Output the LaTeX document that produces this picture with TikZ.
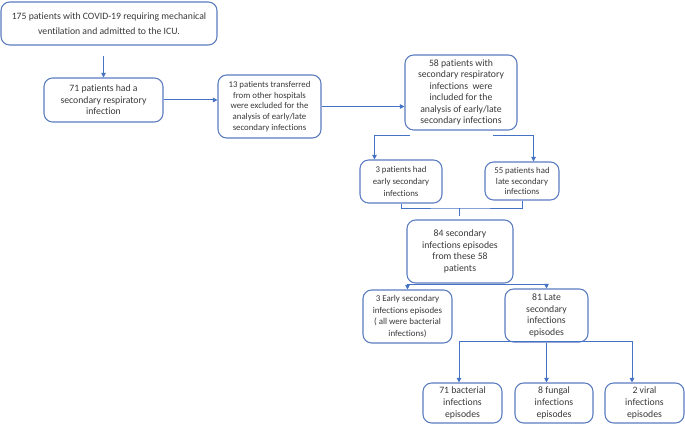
\documentclass[tikz,border=0pt]{standalone}
\usepackage{fontspec}
\setmainfont{Carlito}[Ligatures={NoCommon,NoRare}]
\usetikzlibrary{arrows.meta}
\definecolor{lb}{HTML}{4472C4}
\definecolor{bb}{HTML}{5B7BC0}
\definecolor{txt}{HTML}{383838}
\begin{document}
\begin{tikzpicture}[x=0.75pt,y=-0.75pt,
  box/.style={draw=bb, line width=0.8pt, rounded corners=6.5pt, align=center, text=txt, inner sep=0pt, font=\fontsize{7.3}{8.6}\selectfont},
  sbox/.style={box, font=\fontsize{6.6}{8.0}\selectfont},
  conn/.style={draw=lb, line width=0.75pt},
  arr/.style={conn, -{Triangle[length=3.5pt,width=3.5pt]}}]
\useasboundingbox (0,0) rectangle (685,424);

\node[box, minimum width=162pt, minimum height=32.25pt, font=\fontsize{7.3}{11.6}\selectfont] (b1) at (109,23.5)
  {175 patients with COVID-19 requiring mechanical\\ventilation and admitted to the ICU.};
\node[box, minimum width=89.25pt, minimum height=33pt] (b2) at (103.5,100)
  {71 patients had a\\secondary respiratory\\infection};
\node[sbox, minimum width=77.25pt, minimum height=47.25pt] (b3) at (269.5,106.5)
  {13 patients transferred\\from other hospitals\\were excluded for the\\analysis of early/late\\secondary infections};
\node[box, minimum width=84pt, minimum height=56.25pt] (b4) at (461,92.5)
  {58 patients with\\secondary respiratory\\infections\ \ were\\included for the\\analysis of early/late\\secondary infections};
\node[sbox, minimum width=61.5pt, minimum height=32.25pt, font=\fontsize{6.6}{9.2}\selectfont] (b5) at (401,181.5)
  {3 patients had\\early secondary\\infections};
\node[sbox, minimum width=55.5pt, minimum height=28.5pt] (b6) at (522,181)
  {55 patients had\\late secondary\\infections};
\node[box, minimum width=79.5pt, minimum height=47.25pt] (b7) at (460,251.5)
  {84 secondary\\infections episodes\\from these 58\\patients};
\node[sbox, minimum width=66.75pt, minimum height=39.75pt, font=\fontsize{6.7}{8.7}\selectfont] (b8) at (407.5,316.5)
  {3 Early secondary\\infections episodes\\( all were bacterial\\infections)};
\node[box, minimum width=62.25pt, minimum height=39.75pt] (b9) at (546.5,315.5)
  {81 Late\\secondary\\infections\\episodes};
\node[box, minimum width=59.25pt, minimum height=30pt, font=\fontsize{7.3}{9.3}\selectfont] (b10) at (462.5,403)
  {71 bacterial\\infections\\episodes};
\node[box, minimum width=58.5pt, minimum height=30pt, font=\fontsize{7.3}{9.3}\selectfont] (b11) at (554,403)
  {8 fungal\\infections\\episodes};
\node[box, minimum width=59.25pt, minimum height=30pt, font=\fontsize{7.3}{9.3}\selectfont] (b12) at (644.5,403)
  {2 viral\\infections\\episodes};

% connectors
\coordinate (c1) at (103.5,56);
\draw[arr] (c1) -- (b2.north);
\draw[arr] (b2.east) -- (b2.east -| b3.west);
\draw[arr] (b3.east) -- (b3.east -| b4.west);

\coordinate (e1) at (410,136);
\coordinate (e2) at (493,136);
\draw[arr] (e1) -| ([xshift=11.25pt]b5.north west);
\draw[arr] (e2) -| ([xshift=-19.5pt]b6.north east);

\coordinate (m) at (459,208);
\coordinate (m2) at (459,216);
\draw[conn] (b5.south) |- (m) -| (b6.south);
\draw[conn] (m) -- (m2);

\coordinate (s) at (460,284);
\draw[arr] (s) -| (b8.north);
\draw[arr] (s) -| (b9.north);

\coordinate (hl) at (459,341);
\coordinate (hr) at (632,341);
\draw[conn] (hl) -- (hr);
\draw[arr] (b9.south) -- (b9.south |- b11.north);
\draw[arr] (hl) -- (hl |- b10.north);
\draw[arr] (hr) -- (hr |- b12.north);
\end{tikzpicture}
\end{document}
